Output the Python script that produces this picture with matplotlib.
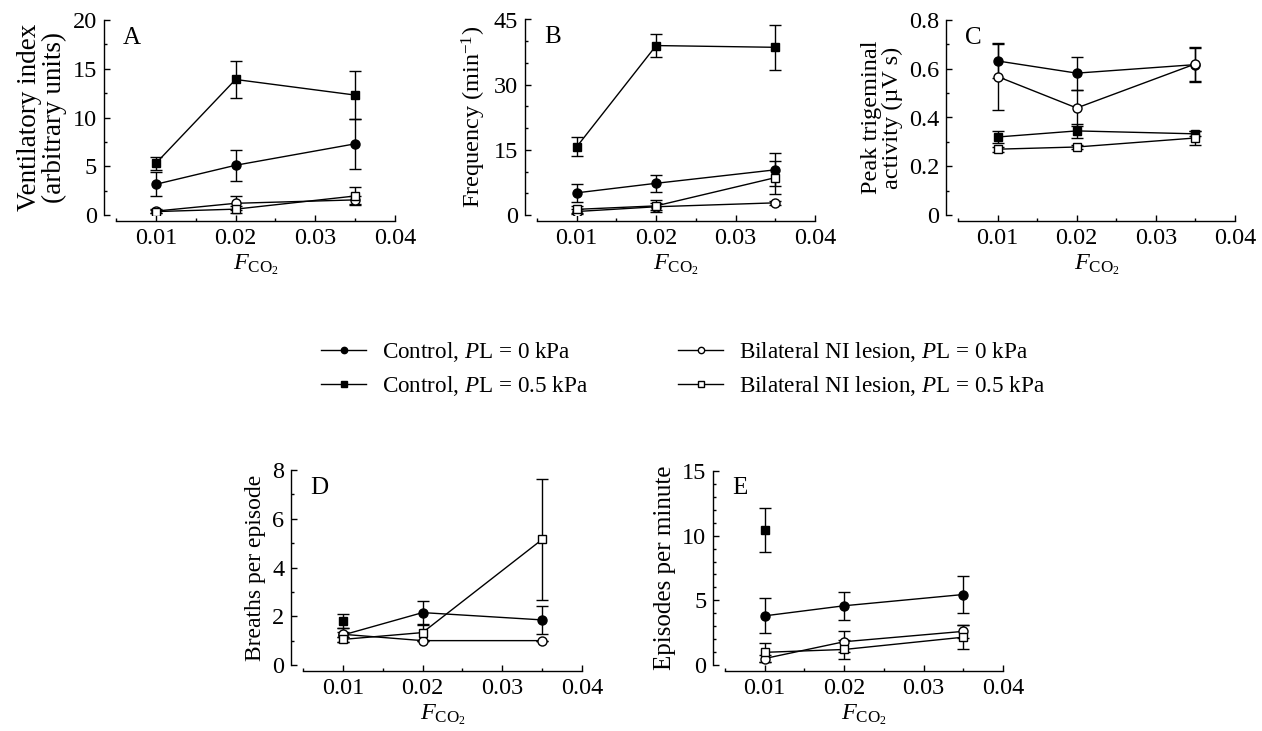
import numpy as np
import matplotlib
matplotlib.use("Agg")
import matplotlib.pyplot as plt
from matplotlib import ticker
from matplotlib.lines import Line2D

plt.rcParams["font.family"] = ["Liberation Serif", "DejaVu Serif"]
plt.rcParams["font.size"] = 17.5
plt.rcParams["mathtext.fontset"] = "custom"
plt.rcParams["mathtext.rm"] = "Liberation Serif"
plt.rcParams["mathtext.it"] = "Liberation Serif:italic"

nan = np.nan

fco2 = [0.01, 0.02, 0.035]

# A: ventilatory index
a_ctrl0 = [3.15, 5.1, 7.3]
a_ctrl0_err = [1.25, 1.6, 2.55]
a_ctrl05 = [5.3, 13.9, 12.3]
a_ctrl05_err = [0.65, 1.9, 2.45]
a_les0 = [0.4, 1.2, 1.55]
a_les0_err = [0.2, 0.7, 0.45]
a_les05 = [0.35, 0.6, 1.95]
a_les05_err = [0.15, 0.35, 0.95]

# B: frequency
b_ctrl0 = [5.1, 7.3, 10.4]
b_ctrl0_err = [2.1, 1.9, 3.8]
b_ctrl05 = [15.7, 39.0, 38.6]
b_ctrl05_err = [2.2, 2.7, 5.2]
b_les0 = [0.8, 1.9, 2.8]
b_les0_err = [0.5, 0.8, 0.4]
b_les05 = [1.3, 2.1, 8.6]
b_les05_err = [0.8, 1.3, 3.8]

# C: peak trigeminal activity
c_ctrl0 = [0.632, 0.582, 0.617]
c_ctrl0_err = [0.07, 0.068, 0.07]
c_ctrl05 = [0.32, 0.345, 0.333]
c_ctrl05_err = [0.023, 0.03, 0.01]
c_les0 = [0.568, 0.439, 0.62]
c_les0_err = [0.136, 0.075, 0.07]
c_les05 = [0.27, 0.279, 0.316]
c_les05_err = [0.01, 0.01, 0.03]

# D: breaths per episode
d_ctrl0 = [1.23, 2.15, 1.85]
d_ctrl0_err = [0.3, 0.48, 0.57]
d_ctrl05 = [1.8, nan, nan]
d_ctrl05_err = [0.3, nan, nan]
d_les0 = [1.26, 1.0, 1.0]
d_les0_err = [0.1, 0.0, 0.0]
d_les05 = [1.05, 1.33, 5.15]
d_les05_err = [0.1, 0.3, 2.5]

# E: episodes per minute
e_ctrl0 = [3.8, 4.58, 5.45]
e_ctrl0_err = [1.35, 1.1, 1.4]
e_ctrl05 = [10.47, nan, nan]
e_ctrl05_err = [1.7, nan, nan]
e_les0 = [0.5, 1.8, 2.6]
e_les0_err = [0.3, 0.8, 0.5]
e_les05 = [0.98, 1.2, 2.15]
e_les05_err = [0.75, 0.75, 0.95]

labels = [
    r"Control, $P$L = 0 kPa",
    r"Control, $P$L = 0.5 kPa",
    r"Bilateral NI lesion, $P$L = 0 kPa",
    r"Bilateral NI lesion, $P$L = 0.5 kPa",
]

styles = [
    dict(marker="o", ms=6.5, mfc="black"),
    dict(marker="s", ms=5.5, mfc="black"),
    dict(marker="o", ms=6.5, mfc="white"),
    dict(marker="s", ms=5.5, mfc="white"),
]

W, H = 1262, 731


def add_panel(fig, box, ymax, ymajor, yminor, letter, ylabel, series, ylabel_size=18):
    left, right, top, bottom = box
    ax = fig.add_axes([left / W, 1 - bottom / H, (right - left) / W, (bottom - top) / H])

    for (y, err), st in zip(series, styles):
        ax.errorbar(fco2, y, yerr=err, color="black", lw=1.0, elinewidth=1.0,
                    capsize=4, capthick=1.0, mec="black", mew=1.0, **st)

    ax.set_xlim(0.005, 0.04)
    ax.set_ylim(0, ymax)
    ax.xaxis.set_major_locator(ticker.FixedLocator([0.01, 0.02, 0.03, 0.04]))
    ax.xaxis.set_minor_locator(ticker.MultipleLocator(0.005))
    ax.xaxis.set_major_formatter(ticker.FormatStrFormatter("%.2f"))
    ax.yaxis.set_major_locator(ticker.MultipleLocator(ymajor))
    ax.yaxis.set_minor_locator(ticker.MultipleLocator(yminor))
    ax.yaxis.set_major_formatter(ticker.StrMethodFormatter("{x:g}"))

    for s in ["top", "right"]:
        ax.spines[s].set_visible(False)
    ax.spines["left"].set_position(("outward", 8.5))
    ax.spines["bottom"].set_position(("outward", 4.5))
    for s in ["left", "bottom"]:
        ax.spines[s].set_linewidth(1.0)

    ax.tick_params(which="both", direction="in", width=1.0)
    ax.tick_params(which="major", length=4, pad=5)
    ax.tick_params(which="minor", length=2.5)

    ax.set_xlabel(r"$F_{\mathrm{CO}_2}$", labelpad=2)
    ax.set_ylabel(ylabel, linespacing=1.0, fontsize=ylabel_size)
    ax.text(0.025, 0.91, letter, transform=ax.transAxes, va="center", ha="left", fontsize=18)
    ax.patch.set_visible(False)
    return ax


fig = plt.figure(figsize=(W / 100, H / 100), dpi=100)

add_panel(fig, (116, 395, 20, 215), 20, 5, 2.5, "A",
          "Ventilatory index\n(arbitrary units)",
          [(a_ctrl0, a_ctrl0_err), (a_ctrl05, a_ctrl05_err),
           (a_les0, a_les0_err), (a_les05, a_les05_err)], ylabel_size=19.5)

add_panel(fig, (537, 815, 19.5, 215), 45, 15, 5, "B",
          r"Frequency (min$^{\mathrm{-1}}$)",
          [(b_ctrl0, b_ctrl0_err), (b_ctrl05, b_ctrl05_err),
           (b_les0, b_les0_err), (b_les05, b_les05_err)], ylabel_size=17.5)

add_panel(fig, (958, 1235, 20, 215), 0.8, 0.2, 0.1, "C",
          "Peak trigeminal\nactivity (\u00b5V s)",
          [(c_ctrl0, c_ctrl0_err), (c_ctrl05, c_ctrl05_err),
           (c_les0, c_les0_err), (c_les05, c_les05_err)], ylabel_size=17.5)

add_panel(fig, (303, 582, 470, 665), 8, 2, 1, "D",
          "Breaths per episode",
          [(d_ctrl0, d_ctrl0_err), (d_ctrl05, d_ctrl05_err),
           (d_les0, d_les0_err), (d_les05, d_les05_err)], ylabel_size=17)

add_panel(fig, (725, 1003, 471, 665), 15, 5, 1, "E",
          "Episodes per minute",
          [(e_ctrl0, e_ctrl0_err), (e_ctrl05, e_ctrl05_err),
           (e_les0, e_les0_err), (e_les05, e_les05_err)], ylabel_size=18)

handles = []
for st in styles:
    s = dict(st)
    s["ms"] = s["ms"] * 0.7
    handles.append(Line2D([], [], color="black", lw=1.0, mec="black", mew=1.0, **s))

fig.legend(handles, labels, ncol=2, frameon=False, fontsize=16.7,
           loc="upper left", bbox_to_anchor=(321 / W, 1 - 340 / H),
           borderpad=0, borderaxespad=0, handlelength=1.95, handletextpad=0.7,
           columnspacing=3.85, labelspacing=0.42)

fig.savefig("out.png", dpi=100)
